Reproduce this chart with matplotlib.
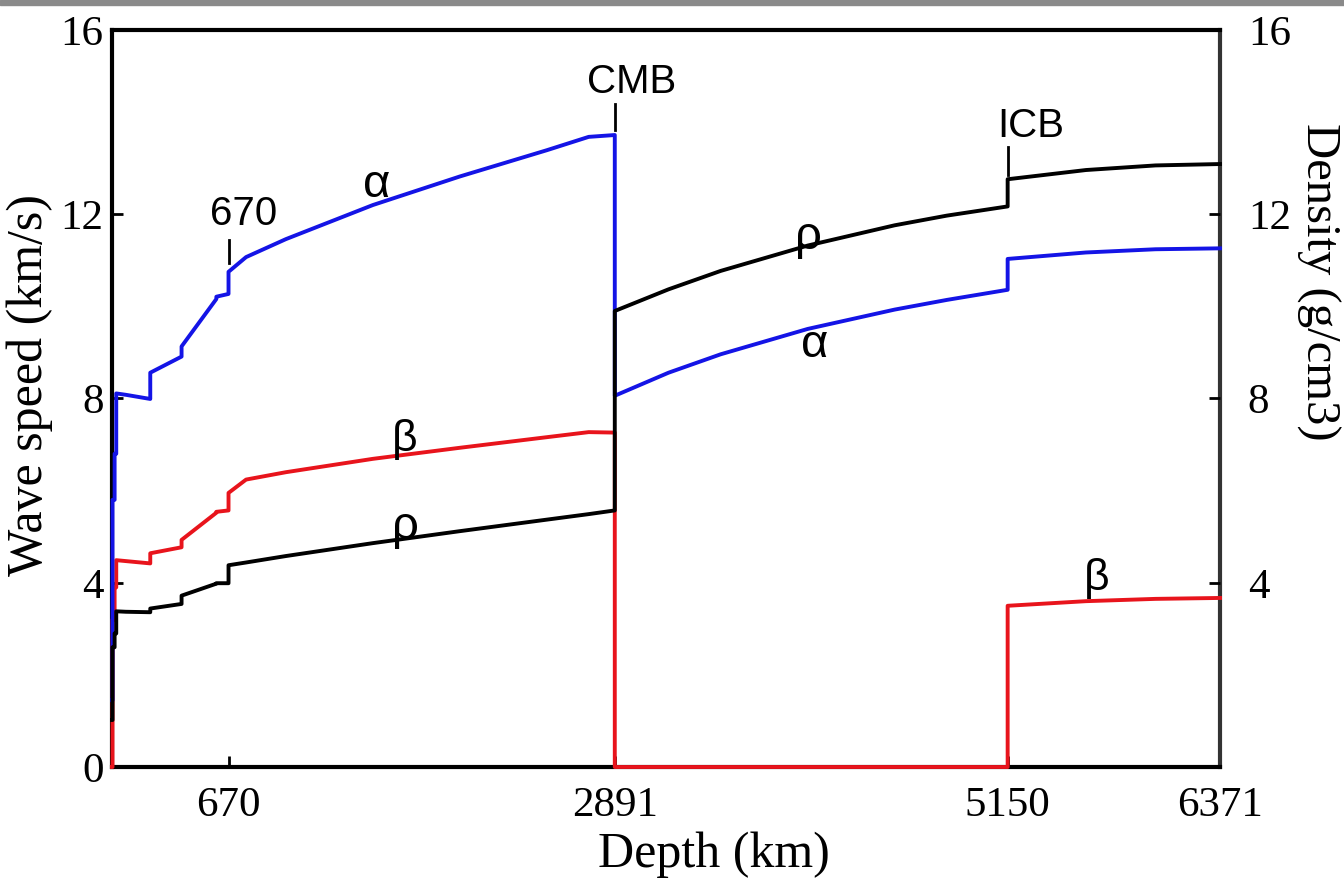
import matplotlib
matplotlib.use('Agg')
import matplotlib.pyplot as plt
from matplotlib.patches import Rectangle

# PREM-like profile (depth km, Vp, Vs km/s, density g/cm3)
depth = [0, 3, 3, 15, 15, 24.4, 24.4, 80, 220, 220, 400, 400, 600, 600, 670, 670,
         771, 1000, 1500, 2000, 2500, 2741, 2891, 2891, 3200, 3500, 4000, 4500, 4800,
         5150, 5150, 5600, 6000, 6371]
alpha = [1.45, 1.45, 5.80, 5.80, 6.80, 6.80, 8.11, 8.08, 7.99, 8.56, 8.91, 9.13,
         10.16, 10.21, 10.27, 10.75, 11.07, 11.46, 12.20, 12.82, 13.39, 13.68, 13.72,
         8.06, 8.56, 8.96, 9.51, 9.93, 10.14, 10.36, 11.03, 11.17, 11.24, 11.26]
beta = [0.0, 0.0, 3.20, 3.20, 3.90, 3.90, 4.49, 4.47, 4.42, 4.64, 4.77, 4.93,
        5.52, 5.54, 5.57, 5.95, 6.24, 6.40, 6.69, 6.93, 7.16, 7.27, 7.26,
        0.0, 0.0, 0.0, 0.0, 0.0, 0.0, 0.0, 3.50, 3.60, 3.65, 3.67]
rho = [1.02, 1.02, 2.60, 2.60, 2.90, 2.90, 3.38, 3.37, 3.36, 3.44, 3.54, 3.72,
       3.98, 3.99, 3.99, 4.38, 4.44, 4.58, 4.86, 5.12, 5.37, 5.49, 5.57,
       9.90, 10.37, 10.77, 11.32, 11.76, 11.97, 12.17, 12.76, 12.96, 13.06, 13.09]

xticks = [670, 2891, 5150, 6371]
yticks = [0, 4, 8, 12, 16]
rticks = [4, 8, 12, 16]

serif = 'Liberation Serif'
sans = 'Liberation Sans'

fig = plt.figure(figsize=(13.44, 8.88), dpi=100)
fig.patches.append(Rectangle((0, 1 - 5 / 888), 1, 5 / 888, transform=fig.transFigure,
                             color='#8a8a8a', zorder=10))
ax = fig.add_axes([112 / 1344, 1 - 767 / 888, (1220 - 112) / 1344, (767 - 30) / 888])

ax.plot(depth, beta, color='#e8141c', lw=2.8, zorder=3, clip_on=False)
ax.plot(depth, alpha, color='#1414e6', lw=2.8, zorder=4, clip_on=False)
ax.plot(depth, rho, color='black', lw=2.8, zorder=5, clip_on=False)

ax.set_xlim(0, 6371)
ax.set_ylim(0, 16)
ax.set_xticks(xticks)
ax.set_yticks(yticks)
for s in ax.spines.values():
    s.set_linewidth(3)
ax.spines['right'].set_color('#333333')
ax.tick_params(direction='in', length=8, width=2)
ax.tick_params(axis='x', pad=14)
ax.tick_params(axis='y', pad=6)
for lab in ax.get_xticklabels() + ax.get_yticklabels():
    lab.set_fontfamily(serif)
    lab.set_fontsize(31)

ax2 = ax.twinx()
ax2.set_ylim(0, 16)
ax2.set_yticks(rticks)
ax2.tick_params(direction='in', length=8, width=2, pad=20)
for s in ax2.spines.values():
    s.set_visible(False)
for lab in ax2.get_yticklabels():
    lab.set_fontfamily(serif)
    lab.set_fontsize(31)

fig.text(30 / 1344, 1 - 385 / 888, 'Wave speed (km/s)', rotation=90, ha='center', va='center',
         fontfamily=serif, fontsize=36)
fig.text(1318 / 1344, 1 - 282 / 888, 'Density (g/cm3)', rotation=270, ha='center', va='center',
         fontfamily=serif, fontsize=35)
fig.text(714 / 1344, 1 - 855 / 888, 'Depth (km)', ha='center', va='center',
         fontfamily=serif, fontsize=36)

# boundary markers
ax.plot([670, 670], [10.95, 11.45], color='black', lw=2)
ax.plot([2891, 2891], [13.83, 14.4], color='black', lw=2)
ax.plot([5150, 5150], [12.85, 13.45], color='black', lw=2)
ax.text(755, 11.6, '670', ha='center', va='bottom', fontfamily=sans, fontsize=29)
ax.text(2990, 14.45, 'CMB', ha='center', va='bottom', fontfamily=sans, fontsize=29)
ax.text(5280, 13.5, 'ICB', ha='center', va='bottom', fontfamily=sans, fontsize=29)

# curve labels
ax.text(1524, 12.64, 'α', ha='center', va='center', fontfamily=sans, fontsize=34)
ax.text(4043, 9.16, 'α', ha='center', va='center', fontfamily=sans, fontsize=34)
ax.text(1685, 7.1, 'β', ha='center', va='center', fontfamily=sans, fontsize=32)
ax.text(5664, 4.1, 'β', ha='center', va='center', fontfamily=sans, fontsize=32)
ax.text(1685, 5.2, 'ρ', ha='center', va='center', fontfamily=sans, fontsize=34)
ax.text(4003, 11.5, 'ρ', ha='center', va='center', fontfamily=sans, fontsize=34)

fig.savefig('out.png', dpi=100)
